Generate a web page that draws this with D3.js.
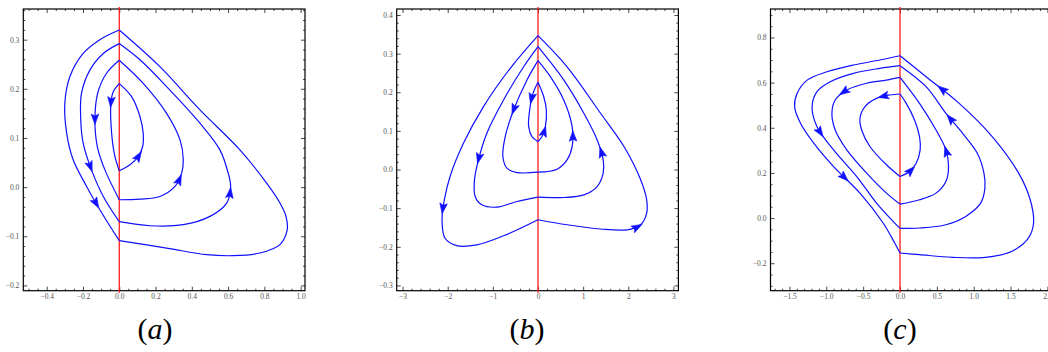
<!DOCTYPE html>
<html><head><meta charset="utf-8">
<script src="https://cdn.jsdelivr.net/npm/d3@7"></script>
<style>body{margin:0;background:#fff}svg{display:block}</style>
</head><body>
<svg id="chart" width="1048" height="352"></svg>
<script>
// Phase portraits of a piecewise system switching on x = 0.
// Each orbit is split into its branch in x<0 and its branch in x>0.

// (a) branches, as [x, y]
const orbitsA_left = [
  [[0,0.3196],[-0.107,0.30],[-0.199,0.272],[-0.272,0.225],[-0.30,0.171],[-0.29,0.11],[-0.254,0.0555],[-0.18,0.0014],[-0.107,-0.046],[0,-0.109]],
  [[0,0.292],[-0.088,0.272],[-0.162,0.238],[-0.208,0.191],[-0.213,0.1436],[-0.199,0.0894],[-0.153,0.035],[-0.088,-0.019],[0,-0.0704]],
  [[0,0.258],[-0.07,0.2316],[-0.119,0.191],[-0.134,0.137],[-0.121,0.0826],[-0.079,0.035],[0,-0.0257]],
  [[0,0.2106],[-0.033,0.194],[-0.046,0.1707],[-0.042,0.1097],[-0.024,0.0623],[0,0.0332]]
];
const orbitsA_right = [
  [[0,-0.109],[0.261,-0.124],[0.482,-0.1375],[0.629,-0.1395],[0.776,-0.134],[0.886,-0.117],[0.926,-0.0867],[0.919,-0.0596],[0.886,-0.0325],[0.8125,0.008],[0.665,0.0758],[0.445,0.157],[0.224,0.245],[0,0.3196]],
  [[0,-0.0704],[0.169,-0.0786],[0.353,-0.0765],[0.5,-0.0596],[0.592,-0.0325],[0.614,0.0014],[0.601,0.028],[0.555,0.0758],[0.445,0.130],[0.261,0.2045],[0.114,0.259],[0,0.292]],
  [[0,-0.0257],[0.114,-0.0244],[0.224,-0.019],[0.307,0.0014],[0.344,0.0284],[0.353,0.0555],[0.335,0.096],[0.261,0.150],[0.132,0.211],[0,0.258]],
  [[0,0.0332],[0.059,0.0454],[0.105,0.0623],[0.129,0.0826],[0.132,0.1097],[0.114,0.1436],[0.068,0.184],[0,0.2106]]
];

// (b) branches
const orbitsB_left = [
  [[0,0.3466],[-0.615,0.262],[-1.207,0.163],[-1.652,0.068],[-1.948,-0.018],[-2.074,-0.078],[-2.126,-0.130],[-2.059,-0.178],[-1.8,-0.197],[-1.356,-0.195],[-0.763,-0.1716],[0,-0.130]],
  [[0,0.318],[-0.3185,0.266],[-0.763,0.180],[-1.133,0.094],[-1.319,0.025],[-1.407,-0.0267],[-1.393,-0.0698],[-1.244,-0.0914],[-0.911,-0.0974],[-0.467,-0.0828],[0,-0.0716]],
  [[0,0.282],[-0.244,0.232],[-0.541,0.154],[-0.726,0.0853],[-0.778,0.0336],[-0.689,0.0034],[-0.467,-0.0078],[0,-0.0069]],
  [[0,0.2259],[-0.111,0.197],[-0.185,0.154],[-0.207,0.111],[-0.133,0.0853],[0,0.0724]]
];
const orbitsB_right = [
  [[0,-0.130],[0.644,-0.143],[1.385,-0.154],[1.978,-0.156],[2.274,-0.143],[2.407,-0.113],[2.407,-0.0784],[2.274,-0.0267],[1.904,0.0595],[1.385,0.1457],[0.644,0.266],[0,0.3466]],
  [[0,-0.0716],[0.570,-0.0724],[1.015,-0.0655],[1.311,-0.044],[1.444,-0.0095],[1.444,0.025],[1.311,0.0767],[1.015,0.1457],[0.570,0.2319],[0,0.318]],
  [[0,-0.0069],[0.422,0.0009],[0.644,0.025],[0.756,0.0595],[0.756,0.111],[0.570,0.180],[0.274,0.2405],[0,0.282]],
  [[0,0.0724],[0.089,0.0853],[0.163,0.111],[0.185,0.154],[0.126,0.189],[0,0.2259]]
];

// (c) branches
const orbitsC_left = [
  [[0,0.719],[-0.2735,0.700],[-0.632,0.678],[-0.991,0.648],[-1.26,0.611],[-1.395,0.5525],[-1.43,0.4935],[-1.35,0.42],[-1.17,0.3315],[-0.901,0.228],[-0.543,0.1105],[-0.229,-0.022],[-0.072,-0.1105],[0,-0.1547]],
  [[0,0.675],[-0.2735,0.663],[-0.632,0.641],[-0.946,0.604],[-1.126,0.56],[-1.193,0.4935],[-1.126,0.405],[-0.901,0.302],[-0.587,0.184],[-0.318,0.0663],[-0.094,-0.0147],[0,-0.0457]],
  [[0,0.623],[-0.184,0.611],[-0.453,0.597],[-0.722,0.567],[-0.879,0.523],[-0.924,0.464],[-0.879,0.39],[-0.722,0.302],[-0.453,0.199],[-0.184,0.1105],[0,0.0619]],
  [[0,0.5495],[-0.139,0.545],[-0.318,0.530],[-0.475,0.4935],[-0.543,0.442],[-0.520,0.39],[-0.408,0.317],[-0.184,0.236],[0,0.184]]
];
const orbitsC_right = [
  [[0,-0.1547],[0.2646,-0.162],[0.713,-0.174],[1.161,-0.174],[1.52,-0.147],[1.744,-0.088],[1.812,-0.022],[1.767,0.081],[1.61,0.199],[1.251,0.361],[0.803,0.508],[0.354,0.626],[0,0.719]],
  [[0,-0.0457],[0.2646,-0.044],[0.623,-0.0295],[0.892,0.0074],[1.094,0.066],[1.152,0.1326],[1.139,0.199],[1.049,0.287],[0.848,0.376],[0.623,0.464],[0.354,0.582],[0,0.675]],
  [[0,0.0619],[0.2646,0.081],[0.489,0.1105],[0.623,0.162],[0.659,0.228],[0.623,0.302],[0.489,0.39],[0.2646,0.508],[0,0.623]],
  [[0,0.184],[0.130,0.206],[0.2197,0.243],[0.2735,0.302],[0.2646,0.361],[0.197,0.4346],[0.085,0.508],[0,0.5495]]
];

// Arrowhead positions, as a fraction of each branch's length (null = none)
const arrowsA_left  = [0.83, 0.70, 0.45, 0.25];
const arrowsA_right = [null, 0.40, 0.33, 0.25];
const arrowsB_left  = [0.61, 0.55, 0.38, 0.30];
const arrowsB_right = [0.31, 0.45, 0.42, 0.22];
const arrowsC_left  = [0.70, 0.52, 0.30, 0.15];
const arrowsC_right = [0.86, 0.72, 0.50, 0.15];

// Axis ticks
const ticksA_x = [-0.4,-0.2,0.0,0.2,0.4,0.6,0.8,1.0];
const ticksA_y = [-0.2,-0.1,0.0,0.1,0.2,0.3];
const ticksB_x = [-3,-2,-1,0,1,2,3];
const ticksB_y = [-0.3,-0.2,-0.1,0.0,0.1,0.2,0.3,0.4];
const ticksC_x = [-1.5,-1.0,-0.5,0.0,0.5,1.0,1.5,2.0];
const ticksC_y = [-0.2,0.0,0.2,0.4,0.6,0.8];

const labels = ["a","b","c"];

// Layout of the three frames
const panels = [
  {x0:23.3, y0:9, size:281.7, xDom:[-0.529,1.024], yDom:[-0.2108,0.3624],
   xt:ticksA_x, yt:ticksA_y, xMinor:0.05, yMinor:0.02, fx:d3.format(".1f"), fy:d3.format(".1f"),
   L:orbitsA_left, R:orbitsA_right, aL:arrowsA_left, aR:arrowsA_right, cx:155},
  {x0:396.7, y0:9, size:281.7, xDom:[-3.13,3.11], yDom:[-0.3137,0.4156],
   xt:ticksB_x, yt:ticksB_y, xMinor:0.2, yMinor:0.02, fx:d3.format("d"), fy:d3.format(".1f"),
   L:orbitsB_left, R:orbitsB_right, aL:arrowsB_left, aR:arrowsB_right, cx:527},
  {x0:770.5, y0:9, size:281.7, xDom:[-1.757,2.065], yDom:[-0.3217,0.926],
   xt:ticksC_x, yt:ticksC_y, xMinor:0.1, yMinor:0.05, fx:d3.format(".1f"), fy:d3.format(".1f"),
   L:orbitsC_left, R:orbitsC_right, aL:arrowsC_left, aR:arrowsC_right, cx:900}
];

const svg = d3.select("#chart");
const BLUE = "#1010ff";
const SERIF = "'Liberation Serif', 'DejaVu Serif', serif";

function minorValues(dom, step, majors) {
  const lo = Math.ceil(dom[0]/step - 1e-6), hi = Math.floor(dom[1]/step + 1e-6);
  const out = [];
  for (let i = lo; i <= hi; i++) {
    const v = i*step;
    if (!majors.some(m => Math.abs(m - v) < step/10)) out.push(v);
  }
  return out;
}

panels.forEach((p, i) => {
  const g = svg.append("g");
  const x = d3.scaleLinear().domain(p.xDom).range([p.x0, p.x0 + p.size]);
  const y = d3.scaleLinear().domain(p.yDom).range([p.y0 + p.size, p.y0]);
  const xb = p.y0 + p.size, yl = p.x0, xr = p.x0 + p.size;

  const styleAxis = sel => {
    sel.attr("font-family", SERIF).attr("font-size", 7.5);
    sel.select(".domain").remove();
    sel.selectAll("line").attr("stroke", "#333").attr("stroke-width", 0.9);
    sel.selectAll("text").style("font-family", SERIF).attr("fill", "#555");
  };
  const xMin = minorValues(p.xDom, p.xMinor, p.xt);
  const yMin = minorValues(p.yDom, p.yMinor, p.yt);

  // bottom / left with labels, ticks pointing inward
  g.append("g").attr("transform", `translate(0,${xb})`)
    .call(d3.axisBottom(x).tickValues(p.xt).tickFormat(p.fx).tickSize(-4).tickPadding(3)).call(styleAxis);
  g.append("g").attr("transform", `translate(0,${xb})`)
    .call(d3.axisBottom(x).tickValues(xMin).tickFormat("").tickSize(-2)).call(styleAxis);
  g.append("g").attr("transform", `translate(${yl},0)`)
    .call(d3.axisLeft(y).tickValues(p.yt).tickFormat(p.fy).tickSize(-4).tickPadding(4)).call(styleAxis);
  g.append("g").attr("transform", `translate(${yl},0)`)
    .call(d3.axisLeft(y).tickValues(yMin).tickFormat("").tickSize(-2)).call(styleAxis);
  // top / right, ticks only
  g.append("g").attr("transform", `translate(0,${p.y0})`)
    .call(d3.axisTop(x).tickValues(p.xt).tickFormat("").tickSize(-4)).call(styleAxis);
  g.append("g").attr("transform", `translate(0,${p.y0})`)
    .call(d3.axisTop(x).tickValues(xMin).tickFormat("").tickSize(-2)).call(styleAxis);
  g.append("g").attr("transform", `translate(${xr},0)`)
    .call(d3.axisRight(y).tickValues(p.yt).tickFormat("").tickSize(-4)).call(styleAxis);
  g.append("g").attr("transform", `translate(${xr},0)`)
    .call(d3.axisRight(y).tickValues(yMin).tickFormat("").tickSize(-2)).call(styleAxis);

  // frame
  g.append("rect").attr("x", p.x0).attr("y", p.y0).attr("width", p.size).attr("height", p.size)
    .attr("fill", "none").attr("stroke", "#000").attr("stroke-width", 1.2);

  // switching line x = 0
  g.append("line").attr("x1", x(0)).attr("x2", x(0)).attr("y1", p.y0 - 2).attr("y2", xb + 2)
    .attr("stroke", "#ff1a1a").attr("stroke-width", 1.3);

  const line = d3.line().x(d => x(d[0])).y(d => y(d[1])).curve(d3.curveCatmullRom.alpha(0.5));
  const drawBranch = (pts, frac) => {
    const path = g.append("path").attr("d", line(pts)).attr("fill", "none")
      .attr("stroke", BLUE).attr("stroke-width", 1.2);
    if (frac == null) return;
    const node = path.node(), L = node.getTotalLength();
    const a = node.getPointAtLength(frac*L), b = node.getPointAtLength(Math.max(0, frac*L - 2));
    const ang = Math.atan2(a.y - b.y, a.x - b.x)*180/Math.PI;
    g.append("path").attr("d", "M3.5,0 L-7,-3.8 L-5,0 L-7,3.8 Z")
      .attr("transform", `translate(${a.x},${a.y}) rotate(${ang})`)
      .attr("fill", BLUE).attr("stroke", BLUE).attr("stroke-width", 0.6).attr("stroke-linejoin", "round");
  };
  p.L.forEach((pts, k) => drawBranch(pts, p.aL[k]));
  p.R.forEach((pts, k) => drawBranch(pts, p.aR[k]));

  // panel label
  const t = svg.append("text").attr("x", p.cx).attr("y", 339).attr("text-anchor", "middle")
    .style("font-family", SERIF).attr("font-size", 30).attr("fill", "#000");
  t.append("tspan").text("(");
  t.append("tspan").attr("font-style", "italic").text(labels[i]);
  t.append("tspan").text(")");
});
</script>
</body></html>
